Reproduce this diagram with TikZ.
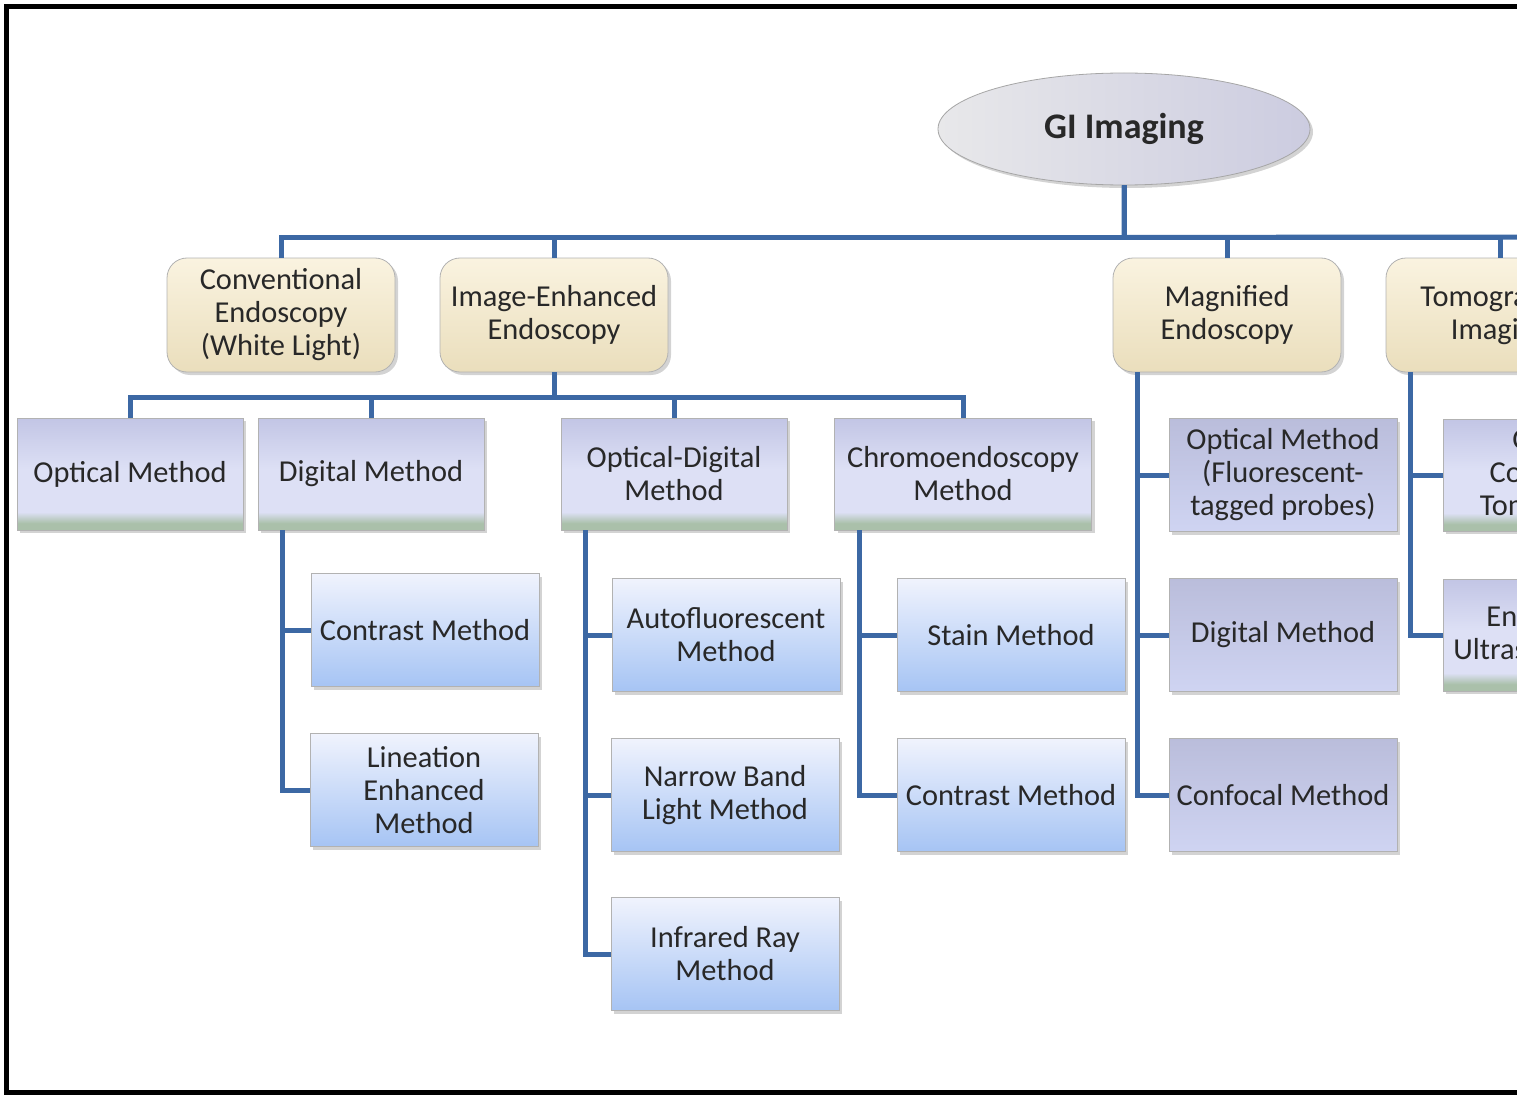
\documentclass[tikz,border=0pt]{standalone}
\usepackage{fontspec}
\setmainfont{Carlito}
\usetikzlibrary{shapes.geometric,shadows}

\definecolor{linkblue}{RGB}{60,104,164}
\definecolor{inktext}{RGB}{40,40,40}
\definecolor{tantop}{RGB}{250,243,224}
\definecolor{tanbot}{RGB}{234,222,188}
\definecolor{lavtop}{RGB}{194,197,229}
\definecolor{lavmid}{RGB}{221,224,245}
\definecolor{lavbot}{RGB}{170,192,170}
\definecolor{bluetop}{RGB}{240,243,253}
\definecolor{bluebot}{RGB}{166,196,244}
\definecolor{greytop}{RGB}{186,189,219}
\definecolor{greybot}{RGB}{207,212,242}
\definecolor{ovalleft}{RGB}{232,232,234}
\definecolor{ovalright}{RGB}{204,204,224}

% lavender box with a green-grey foot
\pgfdeclareverticalshading{lavshade}{100bp}{color(0bp)=(lavbot); color(25bp)=(lavbot); color(28bp)=(lavbot); color(33bp)=(lavmid); color(52bp)=(lavmid); color(75bp)=(lavtop); color(100bp)=(lavtop)}

\begin{document}
\begin{tikzpicture}[x=0.5pt, y=-0.5pt,
    every node/.style = {align=center, text=inktext, inner sep=2pt,
        font=\fontsize{15.2}{16.5}\selectfont},
    shade/.style = {drop shadow={shadow xshift=1.5pt, shadow yshift=-1.5pt, opacity=0.35}},
    topbox/.style = {ellipse, draw=gray!70, left color=ovalleft, right color=ovalright,
        minimum width=186pt, minimum height=56pt, shade,
        font=\bfseries\fontsize{18}{20}\selectfont},
    catbox/.style = {rounded corners=10pt, draw=gray!60, top color=tantop, bottom color=tanbot,
        minimum width=114pt, minimum height=57pt, shade},
    methbox/.style = {draw=gray!60, shading=lavshade, minimum width=113pt, minimum height=56pt, shade},
    subbox/.style = {draw=gray!60, top color=bluetop, bottom color=bluebot,
        minimum width=114pt, minimum height=56.5pt, shade},
    magbox/.style = {draw=gray!60, top color=greytop, bottom color=greybot,
        minimum width=114pt, minimum height=56.5pt, shade},
    conn/.style = {draw=linkblue, line width=2.5pt}]
\useasboundingbox (0,0) rectangle (1517,1097);
\clip (0,0) rectangle (1517,1097);

\node[topbox] (gi) at (1124,129) {GI Imaging};

\node[catbox] (conv) at (281,315) {Conventional\\Endoscopy\\(White Light)};
\node[catbox] (iee) at (554,315) {Image-Enhanced\\Endoscopy};
\node[catbox] (mag) at (1227,315) {Magnified\\Endoscopy};
\node[catbox] (tomo) at (1500,315) {Tomographic\\Imaging};

\node[methbox] (opt) at (130,474) {Optical Method};
\node[methbox] (dig) at (371,474) {Digital Method};
\node[methbox] (odig) at (674,474) {Optical-Digital\\Method};
\node[methbox, minimum width=128.5pt] (chromo) at (963,474) {Chromoendoscopy\\Method};

\node[subbox] (dcon) at (425,630) {Contrast Method};
\node[subbox] (dlin) at (424,790) {Lineation\\Enhanced\\Method};
\node[subbox] (auto) at (726,635) {Autofluorescent\\Method};
\node[subbox] (nbl) at (725,795) {Narrow Band\\Light Method};
\node[subbox] (ir) at (725,954) {Infrared Ray\\Method};
\node[subbox] (stain) at (1011,635) {Stain Method};
\node[subbox] (ccon) at (1011,795) {Contrast Method};

\node[magbox] (mopt) at (1283,475) {Optical Method\\(Fluorescent-\\tagged probes)};
\node[magbox] (mdig) at (1283,635) {Digital Method};
\node[magbox] (mconf) at (1283,795) {Confocal Method};

\node[methbox] (oct) at (1556,475) {Optical\\Coherence\\Tomography};
\node[methbox] (eus) at (1556,635) {Endoscopic\\Ultrasonography};

% connectors
\coordinate (busend) at (1530,237);
\draw[conn] (gi.south) -- ++(0,52) -- (busend);
\foreach \c in {conv,iee,mag,tomo}
    \draw[conn] (gi.south) -- ++(0,52) -| (\c.north);
\foreach \c in {opt,dig,odig,chromo}
    \draw[conn] (iee.south) -- ++(0,25) -| (\c.north);
\foreach \p/\c in {dig/dcon, dig/dlin, odig/auto, odig/nbl, odig/ir, chromo/stain, chromo/ccon,
        mag/mopt, mag/mdig, mag/mconf, tomo/oct, tomo/eus}
    \draw[conn] ([xshift=12.5pt]\p.south west) |- (\c.west);

% frame
\draw[line width=2.5pt] (1530,6.5) -- (6.5,6.5) -- (6.5,1092.5) -- (1530,1092.5);
\end{tikzpicture}
\end{document}
